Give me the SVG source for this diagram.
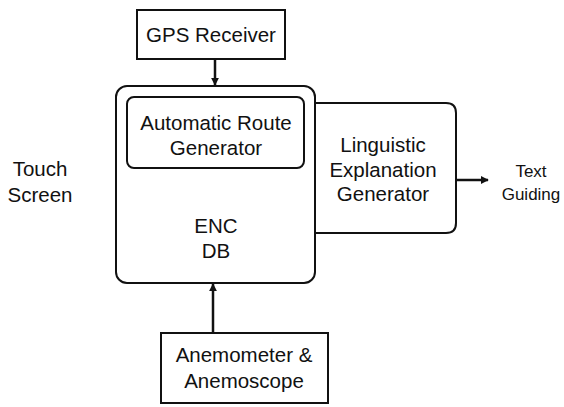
<svg xmlns="http://www.w3.org/2000/svg" width="564" height="407" viewBox="0 0 564 407">
<defs>
<marker id="ah" viewBox="0 0 10 10" refX="9" refY="5" markerWidth="8" markerHeight="8" markerUnits="userSpaceOnUse" orient="auto">
<path d="M0,0 L10,5 L0,10 z" fill="#111"/>
</marker>
</defs>
<style>
.box{fill:#fff;stroke:#111;stroke-width:2}
.t{font-family:"Liberation Sans",Arial,sans-serif;font-size:20.5px;fill:#111;text-anchor:middle}
.s{font-family:"Liberation Sans",Arial,sans-serif;font-size:17px;fill:#111;text-anchor:middle}
.c{stroke:#111;stroke-width:2.5;fill:none}
</style>
<rect width="564" height="407" fill="#fff"/>
<g id="gps">
<rect class="box" x="137" y="10" width="148" height="49"/>
<text class="t" x="211" y="42">GPS Receiver</text>
</g>
<g id="linguistic">
<path class="box" d="M315,103 H446 Q456,103 456,113 V223 Q456,233 446,233 H315"/>
<text class="t" x="383" y="152">Linguistic</text>
<text class="t" x="383" y="177">Explanation</text>
<text class="t" x="383" y="201">Generator</text>
</g>
<g id="enc">
<rect class="box" x="116" y="86" width="199" height="197" rx="11"/>
<text class="t" x="216" y="233">ENC</text>
<text class="t" x="216" y="258">DB</text>
</g>
<g id="route">
<rect class="box" x="127" y="97" width="177" height="71" rx="7"/>
<text class="t" x="216" y="130">Automatic Route</text>
<text class="t" x="216" y="155">Generator</text>
</g>
<g id="anemo">
<rect class="box" x="161" y="333" width="167" height="70"/>
<text class="t" x="244" y="362">Anemometer &amp;</text>
<text class="t" x="244" y="388">Anemoscope</text>
</g>
<g id="touch">
<text class="t" x="40" y="176">Touch</text>
<text class="t" x="40" y="202">Screen</text>
</g>
<g id="textguiding">
<text class="s" x="531" y="177">Text</text>
<text class="s" x="531" y="200">Guiding</text>
</g>
<g id="connectors">
<line class="c" x1="215" y1="59" x2="215" y2="85" marker-end="url(#ah)"/>
<line class="c" x1="213" y1="333" x2="213" y2="284" marker-end="url(#ah)"/>
<line class="c" x1="456" y1="180" x2="488" y2="180" marker-end="url(#ah)"/>
</g>
</svg>
